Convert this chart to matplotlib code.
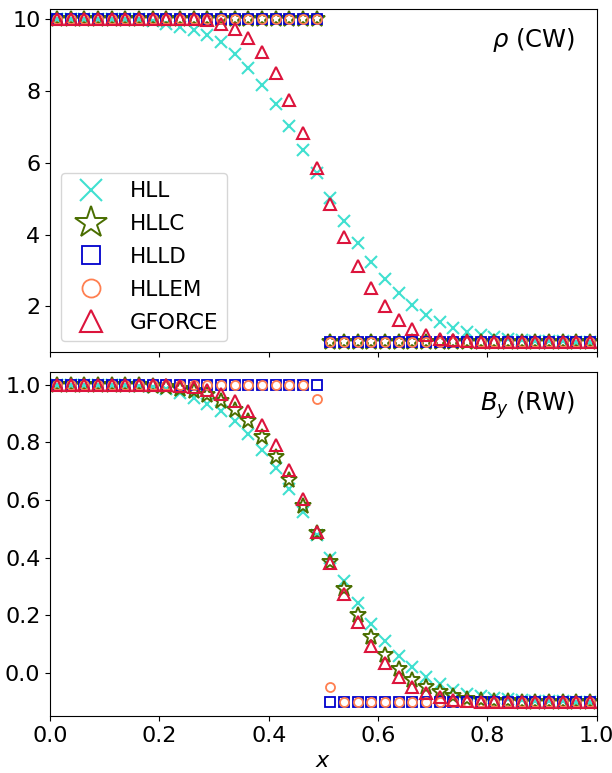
import matplotlib
matplotlib.use("Agg")
import matplotlib.pyplot as plt
import numpy as np

# cell centres, 40 cells on [0, 1]
x = (np.arange(40) + 0.5) / 40

# density, contact wave test
rho_hll = [10.0, 10.0, 10.0, 10.0, 10.0, 10.0, 10.0, 9.96, 9.87, 9.78,
           9.69, 9.56, 9.36, 9.04, 8.65, 8.18, 7.63, 7.02, 6.36, 5.71,
           5.03, 4.37, 3.76, 3.22, 2.75, 2.36, 2.03, 1.76, 1.55, 1.39,
           1.27, 1.19, 1.13, 1.09, 1.06, 1.04, 1.03, 1.02, 1.01, 1.0]
rho_hllc = [10.0] * 20 + [1.0] * 20
rho_hlld = [10.0] * 20 + [1.0] * 20
rho_hllem = [10.0] * 20 + [1.0] * 20
rho_gforce = [10.0, 10.0, 10.0, 10.0, 10.0, 10.0, 10.0, 10.0, 10.0, 10.0,
              10.0, 9.97, 9.88, 9.74, 9.48, 9.09, 8.50, 7.74, 6.84, 5.85,
              4.86, 3.93, 3.13, 2.50, 2.00, 1.62, 1.36, 1.20, 1.10, 1.05,
              1.02, 1.01, 1.0, 1.0, 1.0, 1.0, 1.0, 1.0, 1.0, 1.0]

# By, rotational wave test
by_hll = [1.0, 1.0, 1.0, 1.0, 1.0, 0.999, 0.997, 0.993, 0.985, 0.970,
          0.955, 0.934, 0.909, 0.874, 0.830, 0.775, 0.712, 0.640, 0.559, 0.478,
          0.400, 0.318, 0.242, 0.171, 0.112, 0.060, 0.019, -0.015, -0.039, -0.058,
          -0.072, -0.082, -0.088, -0.092, -0.095, -0.097, -0.098, -0.099, -0.1, -0.1]
by_hllc = [1.0, 1.0, 1.0, 1.0, 1.0, 1.0, 1.0, 0.997, 0.992, 0.986,
           0.978, 0.965, 0.943, 0.912, 0.873, 0.818, 0.749, 0.670, 0.579, 0.484,
           0.385, 0.290, 0.200, 0.125, 0.063, 0.012, -0.024, -0.049, -0.066, -0.080,
           -0.089, -0.094, -0.097, -0.099, -0.1, -0.1, -0.1, -0.1, -0.1, -0.1]
by_hlld = [1.0] * 20 + [-0.1] * 20
by_hllem = [1.0] * 19 + [0.95, -0.05] + [-0.1] * 19
by_gforce = [1.0, 1.0, 1.0, 1.0, 1.0, 1.0, 1.0, 1.0, 1.0, 0.996,
             0.993, 0.981, 0.969, 0.944, 0.910, 0.860, 0.790, 0.703, 0.603, 0.489,
             0.383, 0.274, 0.175, 0.095, 0.033, -0.015, -0.049, -0.071, -0.085, -0.094,
             -0.098, -0.1, -0.1, -0.1, -0.1, -0.1, -0.1, -0.1, -0.1, -0.1]

solvers = ["HLL", "HLLC", "HLLD", "HLLEM", "GFORCE"]
styles = {
    "HLL": dict(marker="x", color="turquoise", ms=8, mew=1.5),
    "HLLC": dict(marker="*", color="#4a6e00", ms=12, mew=1.4),
    "HLLD": dict(marker="s", color="mediumblue", ms=6.5, mew=1.3),
    "HLLEM": dict(marker="o", color="coral", ms=6.5, mew=1.3),
    "GFORCE": dict(marker="^", color="crimson", ms=8, mew=1.5),
}

top = dict(zip(solvers, [rho_hll, rho_hllc, rho_hlld, rho_hllem, rho_gforce]))
bottom = dict(zip(solvers, [by_hll, by_hllc, by_hlld, by_hllem, by_gforce]))

fig, (ax1, ax2) = plt.subplots(2, 1, figsize=(6.12, 7.73), dpi=100, sharex=True)
fig.subplots_adjust(left=0.082, right=0.975, top=0.989, bottom=0.074, hspace=0.058)

for ax, data in [(ax1, top), (ax2, bottom)]:
    for name in solvers:
        st = styles[name]
        ax.plot(x, data[name], linestyle="none", marker=st["marker"], ms=st["ms"],
                mew=st["mew"], color=st["color"], mfc="none", label=name)
    ax.tick_params(labelsize=16)

ax1.set_ylim(0.72, 10.3)
ax1.set_yticks([2, 4, 6, 8, 10])
ax2.set_ylim(-0.149, 1.044)
ax2.set_xlim(0, 1)

ax1.text(0.96, 0.95, r"$\rho$ (CW)", transform=ax1.transAxes, ha="right", va="top", fontsize=17.5)
ax2.text(0.96, 0.95, r"$B_y$ (RW)", transform=ax2.transAxes, ha="right", va="top", fontsize=17.5)

ax2.set_xlabel(r"$x$", fontsize=16)
ax1.legend(loc="lower left", fontsize=15.5, markerscale=2, labelspacing=0.6)

fig.savefig("out.png", dpi=100)
